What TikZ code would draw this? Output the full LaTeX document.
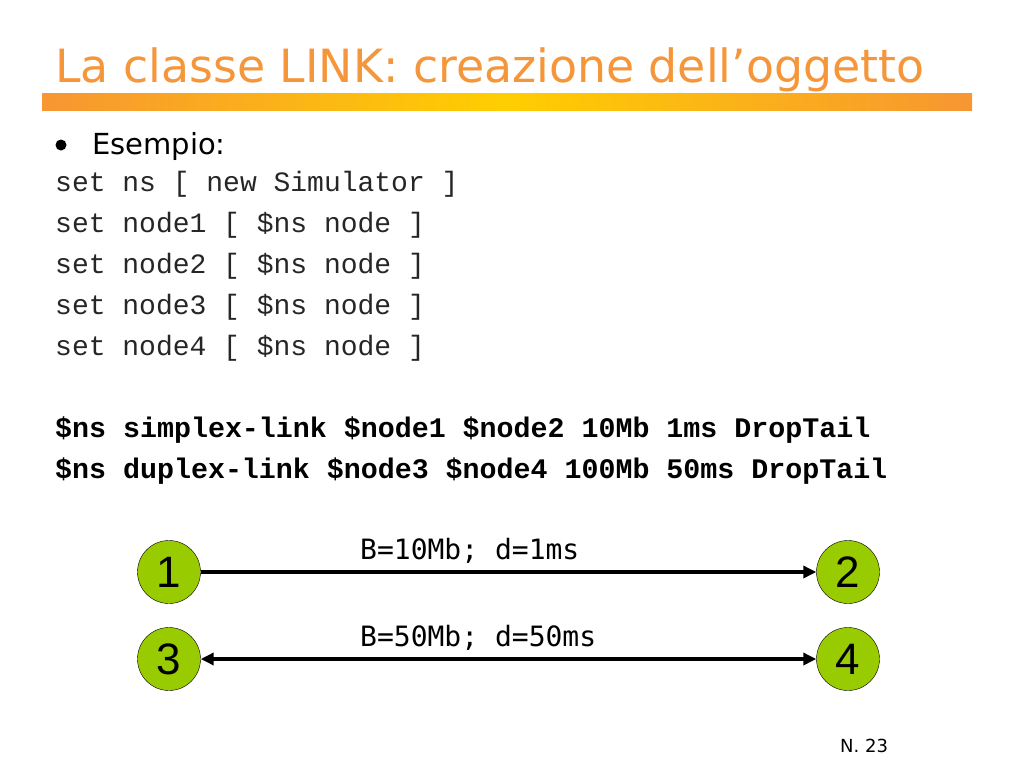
\documentclass[tikz,border=0pt]{standalone}
\usepackage{fontspec}
\setmainfont{DejaVu Sans}
\newfontfamily\codefont{Liberation Mono}
\newfontfamily\labelfont{DejaVu Sans Mono}
\newfontfamily\numfont{Liberation Sans}
\usetikzlibrary{arrows.meta}
\definecolor{titleorange}{RGB}{246,150,58}
\definecolor{barorange}{RGB}{247,150,50}
\definecolor{baryellow}{RGB}{255,206,0}
\definecolor{nodegreen}{RGB}{153,204,0}

\begin{document}
\begin{tikzpicture}[x=1pt, y=-1pt,
  netnode/.style={circle, draw=black, thin, fill=nodegreen, minimum size=63pt, inner sep=0pt, font=\numfont\fontsize{44}{44}\selectfont},
  codeline/.style={anchor=base west, inner sep=0pt, text=black!85, font=\codefont\fontsize{28}{28}\selectfont},
  boldline/.style={anchor=base west, inner sep=0pt, font=\codefont\bfseries\fontsize{28.3}{28}\selectfont},
  linklabel/.style={anchor=base west, inner sep=0pt, font=\labelfont\fontsize{28}{28}\selectfont},
  link/.style={line width=3.5pt},
  tip/.style={Triangle[length=13pt, width=12pt]}]
\useasboundingbox (0, 0) rectangle (1024, 768);
\fill [white] (0, 0) rectangle (1024, 768);
% title
\node [anchor=base west, inner sep=0pt, text=titleorange, font=\fontsize{45.8}{46}\selectfont] (title) at (55, 82) {La classe LINK: creazione dell’oggetto};
\shade [left color=barorange, right color=barorange, middle color=baryellow] (42, 93) rectangle (972, 110);
% bullet and code
\node [circle, fill=black, minimum size=11pt, inner sep=0pt] (bullet) at (61, 145) {};
\node [anchor=base west, inner sep=0pt, font=\fontsize{29}{29}\selectfont] (esempio) at (92, 154) {Esempio:};
\node [codeline] (line1) at (55, 191) {set ns [ new Simulator ]};
\node [codeline] (line2) at (55, 232) {set node1 [ \$ns node ]};
\node [codeline] (line3) at (55, 273) {set node2 [ \$ns node ]};
\node [codeline] (line4) at (55, 314) {set node3 [ \$ns node ]};
\node [codeline] (line5) at (55, 355) {set node4 [ \$ns node ]};
\node [boldline] (simplex) at (55, 437) {\$ns simplex-link \$node1 \$node2 10Mb 1ms DropTail};
\node [boldline] (duplex) at (55, 478) {\$ns duplex-link \$node3 \$node4 100Mb 50ms DropTail};
% network
\node [netnode] (n1) at (169, 572) {1};
\node [netnode] (n2) at (848, 572) {2};
\node [netnode] (n3) at (169, 659) {3};
\node [netnode] (n4) at (848, 659) {4};
\draw [link, -{Triangle[length=13pt, width=12pt]}] (n1) -- (n2);
\draw [link, {Triangle[length=13pt, width=12pt]}-{Triangle[length=13pt, width=12pt]}] (n3) -- (n4);
\node [linklabel] (lab12) at (360, 559) {B=10Mb; d=1ms};
\node [linklabel] (lab34) at (360, 646) {B=50Mb; d=50ms};
% page number
\node [anchor=base west, inner sep=0pt, font=\fontsize{18}{18}\selectfont] (page) at (840, 752) {N. 23};
\end{tikzpicture}
\end{document}
